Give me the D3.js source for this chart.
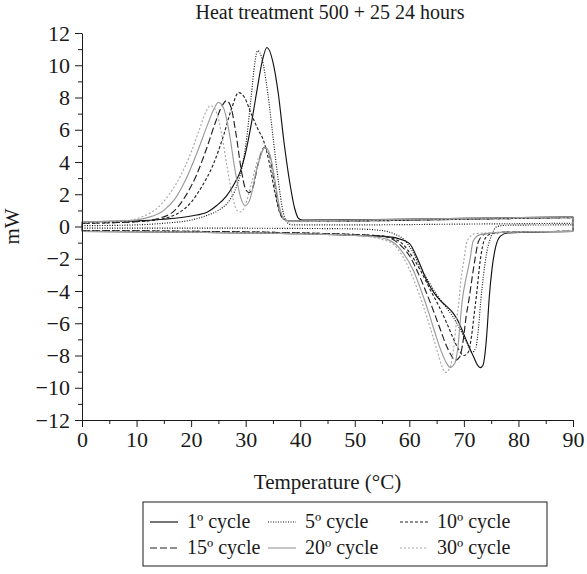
<!DOCTYPE html>
<html>
<head>
<meta charset="utf-8">
<script src="https://cdn.jsdelivr.net/npm/d3@7"></script>
<style>
  body { margin: 0; background: #fff; }
  svg text { font-family: "Liberation Serif", "DejaVu Serif", serif; fill: #1a1a1a; }
</style>
</head>
<body>
<div class="chart"></div>
<script>
// tick values
const xTicks = [0, 10, 20, 30, 40, 50, 60, 70, 80, 90];
const xMinor = [5, 15, 25, 35, 45, 55, 65, 75, 85];
const yTicks = [-12, -10, -8, -6, -4, -2, 0, 2, 4, 6, 8, 10, 12];
const yMinor = [-11, -9, -7, -5, -3, -1, 1, 3, 5, 7, 9, 11];

const cycles = ['1º cycle', '5º cycle', '10º cycle', '15º cycle', '20º cycle', '30º cycle'];

// upper branch (peaks), [temperature, mW]
const up1 = [[0,0.3],[10,0.35],[15,0.45],[20,0.65],[23,0.9],[24.7,1.3],[26.5,1.9],[28,2.7],[29,3.4],[30,4.6],[31,6.3],[32,8.3],[33,10.2],[33.9,11.1],[35,10.2],[36,8.2],[37,5.3],[38,2.9],[39,1.1],[39.7,0.5],[40.5,0.4],[50,0.42],[70,0.5],[90,0.6]];
const up5 = [[0,0.05],[10,0.1],[15,0.2],[20,0.4],[23,0.7],[25,1.0],[27,1.6],[28,2.2],[29,3.2],[30,5.0],[31,8.0],[31.7,10.2],[32.2,10.9],[33,10.4],[34,8.4],[35,5.6],[36,2.8],[36.8,1.0],[37.5,0.3],[38.5,0.1],[50,0.1],[70,0.15],[90,0.2]];
const up10 = [[0,0.2],[10,0.3],[15,0.5],[18,0.9],[20,1.5],[22,2.5],[24,3.8],[26,5.7],[27.5,7.4],[28.7,8.3],[29.8,8.0],[31,7.0],[32.3,6.0],[33.3,5.3],[34.3,4.0],[35.3,2.2],[36.2,0.9],[37,0.45],[38,0.35],[50,0.35],[70,0.45],[90,0.55]];
const up15 = [[0,0.2],[10,0.3],[14,0.5],[17,1.0],[19,1.9],[21,3.2],[23,5.0],[24.5,6.5],[25.7,7.5],[26.5,7.8],[27.3,7.4],[28.2,5.8],[29.2,3.5],[30,2.3],[30.6,2.1],[31.3,2.4],[32.3,3.9],[33.4,4.9],[34.3,4.5],[35.2,2.9],[36,1.3],[36.8,0.5],[38,0.35],[50,0.35],[70,0.45],[90,0.55]];
const up20 = [[0,0.3],[8,0.35],[12,0.55],[15,1.0],[17,1.7],[19,2.9],[21,4.5],[23,6.3],[24.2,7.3],[25,7.7],[26,7.3],[27,5.8],[28,3.6],[29,1.9],[29.9,1.3],[30.8,1.7],[32,3.5],[33.6,4.9],[34.5,4.4],[35.4,2.8],[36.2,1.2],[37,0.5],[38,0.35],[50,0.4],[70,0.5],[90,0.6]];
const up30 = [[0,0.25],[8,0.35],[11,0.6],[14,1.2],[16,2.0],[18,3.1],[20,4.6],[21.5,6.0],[22.7,7.1],[23.5,7.5],[24.5,7.2],[25.5,5.9],[26.6,3.7],[27.7,1.7],[28.4,1.0],[29,0.9],[29.8,1.2],[31,2.6],[32.4,4.3],[33.6,4.9],[34.6,4.2],[35.5,2.4],[36.3,1.0],[37,0.45],[38,0.3],[50,0.35],[70,0.45],[90,0.55]];

// lower branch (valleys), [temperature, mW]
const low1 = [[0,-0.3],[20,-0.35],[40,-0.45],[50,-0.55],[55,-0.6],[58,-0.75],[60,-1.05],[61.5,-2.0],[63.2,-3.35],[64.5,-4.1],[65.7,-4.6],[67,-5.0],[68.1,-5.4],[69,-5.9],[70,-6.7],[71,-7.5],[71.8,-8.1],[72.5,-8.6],[73,-8.75],[73.5,-8.6],[73.9,-7.8],[74.3,-6.2],[74.6,-4.6],[75.2,-2.5],[75.8,-1.3],[76.7,-0.6],[78,-0.4],[90,-0.3]];
const low5 = [[0,-0.1],[20,-0.1],[40,-0.12],[50,-0.15],[55,-0.25],[57.5,-0.5],[59,-0.8],[60.5,-1.5],[62,-2.5],[63.5,-3.4],[65,-4.2],[66.5,-4.9],[68,-5.6],[69.5,-6.5],[70.7,-7.3],[71.5,-7.8],[72.2,-7.5],[72.7,-6.2],[73.1,-4.6],[73.6,-3.0],[74.2,-1.6],[75,-0.6],[76.1,0.0],[78,0.08],[90,0.1]];
const low10 = [[0,-0.25],[20,-0.3],[40,-0.4],[50,-0.5],[55,-0.6],[57,-0.75],[58.5,-1.0],[60,-1.6],[62,-2.7],[63.8,-3.9],[65.5,-5.0],[67,-6.1],[68,-6.9],[69,-7.6],[70,-8.0],[70.8,-7.8],[71.4,-6.8],[71.9,-5.4],[72.3,-4.3],[73,-2.1],[73.8,-0.8],[75,-0.45],[78,-0.35],[90,-0.3]];
const low15 = [[0,-0.25],[20,-0.3],[40,-0.4],[50,-0.5],[55,-0.6],[57,-0.8],[58.5,-1.2],[60,-1.8],[61.5,-2.8],[63,-4.0],[64.5,-5.3],[65.8,-6.5],[66.8,-7.4],[67.7,-8.0],[68.4,-8.3],[69.2,-8.1],[69.9,-7.0],[70.4,-5.6],[70.9,-4.6],[71.5,-3.2],[72,-2.1],[72.7,-0.9],[74,-0.45],[78,-0.35],[90,-0.3]];
const low20 = [[0,-0.3],[20,-0.35],[40,-0.45],[50,-0.55],[54,-0.65],[56,-0.8],[57.5,-1.1],[59,-1.7],[60.7,-2.7],[62.2,-4.0],[63.7,-5.5],[64.8,-6.7],[65.8,-7.7],[66.7,-8.4],[67.5,-8.74],[68.3,-8.5],[68.9,-7.5],[69.3,-6.0],[69.7,-4.6],[70.4,-3.2],[71.1,-2.1],[71.7,-0.9],[73,-0.5],[78,-0.35],[90,-0.3]];
const low30 = [[0,-0.3],[20,-0.35],[40,-0.45],[50,-0.55],[53,-0.65],[55,-0.8],[57.1,-1.1],[58.7,-1.8],[60.2,-2.8],[61.7,-4.1],[63.2,-5.6],[64.2,-6.7],[65.1,-7.7],[65.9,-8.6],[66.6,-9.05],[67.4,-8.8],[68.1,-7.6],[68.6,-6.0],[69.1,-4.6],[69.5,-3.2],[70,-2.1],[70.6,-0.9],[72,-0.45],[78,-0.35],[90,-0.3]];

const upper = [up1, up5, up10, up15, up20, up30];
const lower = [low1, low5, low10, low15, low20, low30];
const strokes = ['#111', '#111', '#222', '#222', '#9a9a9a', '#a8a8a8'];
const dashes = [null, '1,1.5', '3,2', '7,3', null, '2,2'];

let margin = {top: 33, right: 14, bottom: 154, left: 82},
    width = 587 - margin.left - margin.right,
    height = 574 - margin.top - margin.bottom;

let svg = d3.select('.chart')
    .append('svg')
    .attr('width', 587)
    .attr('height', 574);

let g = svg.append('g')
    .attr('transform', 'translate(' + margin.left + ',' + margin.top + ')');

let x = d3.scaleLinear().domain([0, 90]).range([0, width]);
let y = d3.scaleLinear().domain([-12, 12]).range([height, 0]);

// curves
let line = d3.line()
    .x(d => x(d[0]))
    .y(d => y(d[1]))
    .curve(d3.curveMonotoneX);

let plain = d3.line().x(d => x(d[0])).y(d => y(d[1]));

cycles.forEach((c, i) => {
    let up = upper[i], low = lower[i];
    let grp = g.append('g')
        .attr('fill', 'none')
        .attr('stroke', strokes[i])
        .attr('stroke-width', 1.15)
        .attr('stroke-dasharray', dashes[i]);
    grp.append('path').attr('d', line(up));
    grp.append('path').attr('d', line(low));
    // close the loop at both ends
    grp.append('path').attr('d', plain([up[0], low[0]]));
    grp.append('path').attr('d', plain([up[up.length - 1], low[low.length - 1]]));
});

// axes
let axisFont = a => {
    a.attr('font-family', null).attr('font-size', null);
    a.selectAll('text')
        .attr('font-family', 'Liberation Serif')
        .attr('font-size', 22)
        .attr('fill', '#1a1a1a');
};

g.append('g')
    .attr('transform', 'translate(0,' + height + ')')
    .call(d3.axisBottom(x).tickValues(xMinor).tickSize(4).tickFormat(''))
    .call(a => a.select('.domain').remove());
g.append('g')
    .attr('transform', 'translate(0,' + height + ')')
    .call(d3.axisBottom(x).tickValues(xTicks).tickSize(7).tickSizeOuter(0).tickPadding(4))
    .call(axisFont);

g.append('g')
    .call(d3.axisLeft(y).tickValues(yMinor).tickSize(4).tickFormat(''))
    .call(a => a.select('.domain').remove());
g.append('g')
    .call(d3.axisLeft(y).tickValues(yTicks).tickSize(7).tickSizeOuter(0).tickPadding(5))
    .call(axisFont);

g.selectAll('.domain, .tick line').attr('stroke', '#1a1a1a');

// labels
svg.append('text')
    .attr('x', 330)
    .attr('y', 19)
    .attr('text-anchor', 'middle')
    .style('font-size', '20px')
    .text('Heat treatment 500 + 25 24 hours');

svg.append('text')
    .attr('x', margin.left + width / 2)
    .attr('y', 489)
    .attr('text-anchor', 'middle')
    .style('font-size', '21px')
    .text('Temperature (°C)');

svg.append('text')
    .attr('transform', 'translate(19,' + (margin.top + y(0)) + ')rotate(-90)')
    .attr('text-anchor', 'middle')
    .style('font-size', '21px')
    .text('mW');

// legend
let legend = svg.append('g').attr('transform', 'translate(143,502)');
legend.append('rect')
    .attr('width', 404)
    .attr('height', 64)
    .attr('fill', 'none')
    .attr('stroke', '#1a1a1a');

let colX = [7, 125, 257];
cycles.forEach((c, i) => {
    let cx = colX[i % 3], cy = i < 3 ? 20 : 46;
    legend.append('line')
        .attr('x1', cx).attr('x2', cx + 28)
        .attr('y1', cy).attr('y2', cy)
        .attr('stroke', strokes[i])
        .attr('stroke-width', 1.15)
        .attr('stroke-dasharray', dashes[i]);
    legend.append('text')
        .attr('x', cx + 37)
        .attr('y', cy + 6)
        .style('font-size', '20px')
        .text(c);
});
</script>
</body>
</html>
